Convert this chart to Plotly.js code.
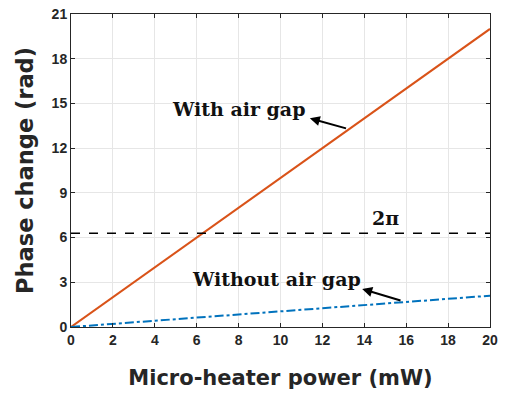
<!DOCTYPE html>
<html><head><meta charset="utf-8">
<script src="https://cdn.plot.ly/plotly-3.0.1.min.js"></script>
<style>html,body{margin:0;padding:0;background:#fff}#chart{width:505px;height:394px}</style>
</head><body><div id="chart"></div>
<script>
const power = [0, 20];
const withAirGap = [0, 20];
const withoutAirGap = [0, 2.1];
const twoPi = 2 * Math.PI;
const xTicks = [0,2,4,6,8,10,12,14,16,18,20];
const yTicks = [0,3,6,9,12,15,18,21];

const traces = [
  {x: power, y: withAirGap, mode: 'lines', line: {color: '#D95319', width: 2}, name: 'With air gap'},
  {x: power, y: withoutAirGap, mode: 'lines', line: {color: '#0072BD', width: 2, dash: 'dashdot'}, name: 'Without air gap'},
  {x: power, y: [twoPi, twoPi], mode: 'lines', line: {color: '#000', width: 1.5, dash: 'dash'}, name: '2π'}
];
const tickFont = {family: 'Liberation Sans, Arial', size: 14, color: '#262626', weight: 'bold'};
const axisCommon = {
  showline: true, mirror: 'ticks', linecolor: '#262626', linewidth: 1,
  ticks: 'inside', ticklen: 4, tickcolor: '#262626',
  showgrid: true, gridcolor: '#e6e6e6', gridwidth: 1, zeroline: false,
  tickfont: tickFont
};
const annFont = {family: 'DejaVu Serif, serif', size: 19, color: '#111', weight: 'bold'};
const layout = {
  width: 505, height: 394,
  margin: {l: 71, r: 15, t: 14, b: 67},
  showlegend: false,
  paper_bgcolor: '#fff', plot_bgcolor: '#fff',
  xaxis: Object.assign({}, axisCommon, {range: [0, 20], tickvals: xTicks,
    title: {text: 'Micro-heater power (mW)', font: {family: 'DejaVu Sans, sans-serif', size: 21, color: '#262626', weight: 'bold'}, standoff: 23}}),
  yaxis: Object.assign({}, axisCommon, {range: [0, 21], tickvals: yTicks,
    title: {text: 'Phase change (rad)', font: {family: 'DejaVu Sans, sans-serif', size: 22.5, color: '#262626', weight: 'bold'}, standoff: 11}}),
  annotations: [
    {x: 8.0, y: 14.6, xref: 'x', yref: 'y', text: 'With air gap', showarrow: false, font: annFont},
    {x: 11.4, y: 14.0, ax: 13.2, ay: 13.3, xref: 'x', yref: 'y', axref: 'x', ayref: 'y', text: '', showarrow: true, arrowhead: 2, arrowsize: 1, arrowwidth: 2, arrowcolor: '#000', standoff: 0, startstandoff: 0},
    {x: 9.8, y: 3.2, xref: 'x', yref: 'y', text: 'Without air gap', showarrow: false, font: annFont},
    {x: 13.9, y: 2.55, ax: 15.8, ay: 1.75, xref: 'x', yref: 'y', axref: 'x', ayref: 'y', text: '', showarrow: true, arrowhead: 2, arrowsize: 1, arrowwidth: 2, arrowcolor: '#000', standoff: 0, startstandoff: 0},
    {x: 15.0, y: 7.3, xref: 'x', yref: 'y', text: '2π', showarrow: false, font: annFont}
  ]
};
Plotly.newPlot('chart', traces, layout, {displayModeBar: false, staticPlot: true});
</script></body></html>
